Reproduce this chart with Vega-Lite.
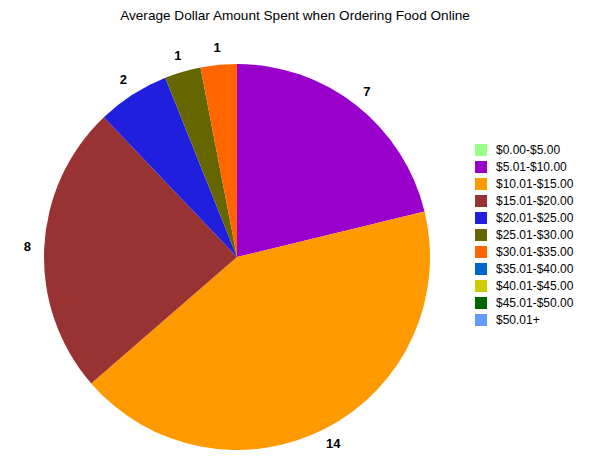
{
  "$schema": "https://vega.github.io/schema/vega-lite/v6.json",
  "autosize": {"type": "none"},
  "padding": {"left": 0, "top": 30, "right": 126, "bottom": 0},
  "width": 474,
  "height": 454,
  "background": "white",
  "title": {"text": "Average Dollar Amount Spent when Ordering Food Online", "font": "Liberation Sans", "fontSize": 13.6, "fontWeight": "normal", "color": "#000000", "anchor": "middle", "dx": 58, "offset": 7},
  "data": {"values": [
    {"range": "$0.00-$5.00", "k": 1, "count": 0},
    {"range": "$5.01-$10.00", "k": 2, "count": 7},
    {"range": "$10.01-$15.00", "k": 3, "count": 14},
    {"range": "$15.01-$20.00", "k": 4, "count": 8},
    {"range": "$20.01-$25.00", "k": 5, "count": 2},
    {"range": "$25.01-$30.00", "k": 6, "count": 1},
    {"range": "$30.01-$35.00", "k": 7, "count": 1},
    {"range": "$35.01-$40.00", "k": 8, "count": 0},
    {"range": "$40.01-$45.00", "k": 9, "count": 0},
    {"range": "$45.01-$50.00", "k": 10, "count": 0},
    {"range": "$50.01+", "k": 11, "count": 0}
  ]},
  "encoding": {
    "theta": {"field": "count", "type": "quantitative", "stack": true},
    "order": {"field": "k", "type": "quantitative"},
    "color": {
      "field": "range", "type": "nominal",
      "scale": {
        "domain": ["$0.00-$5.00", "$5.01-$10.00", "$10.01-$15.00", "$15.01-$20.00", "$20.01-$25.00", "$25.01-$30.00", "$30.01-$35.00", "$35.01-$40.00", "$40.01-$45.00", "$45.01-$50.00", "$50.01+"],
        "range": ["#99ff88", "#9900cc", "#ff9900", "#993333", "#1f1fdd", "#666600", "#ff6600", "#0066cc", "#cccc00", "#006600", "#6699ff"]
      },
      "legend": {
        "title": null, "orient": "none", "legendX": 475, "legendY": 114,
        "symbolType": "square", "symbolSize": 144, "symbolStrokeWidth": 0,
        "labelFont": "Liberation Sans", "labelFontSize": 12, "labelColor": "#000000",
        "rowPadding": 5, "labelOffset": 9
      }
    }
  },
  "layer": [
    {"mark": {"type": "arc", "outerRadius": 193, "stroke": null}},
    {
      "transform": [{"filter": "datum.count > 0"}],
      "mark": {"type": "text", "radius": 210, "font": "Liberation Sans", "fontSize": 13, "fontWeight": "bold", "color": "#000000"},
      "encoding": {"text": {"field": "count", "type": "quantitative"}, "color": {"value": "#000000"}}
    }
  ],
  "config": {"view": {"stroke": null}}
}
